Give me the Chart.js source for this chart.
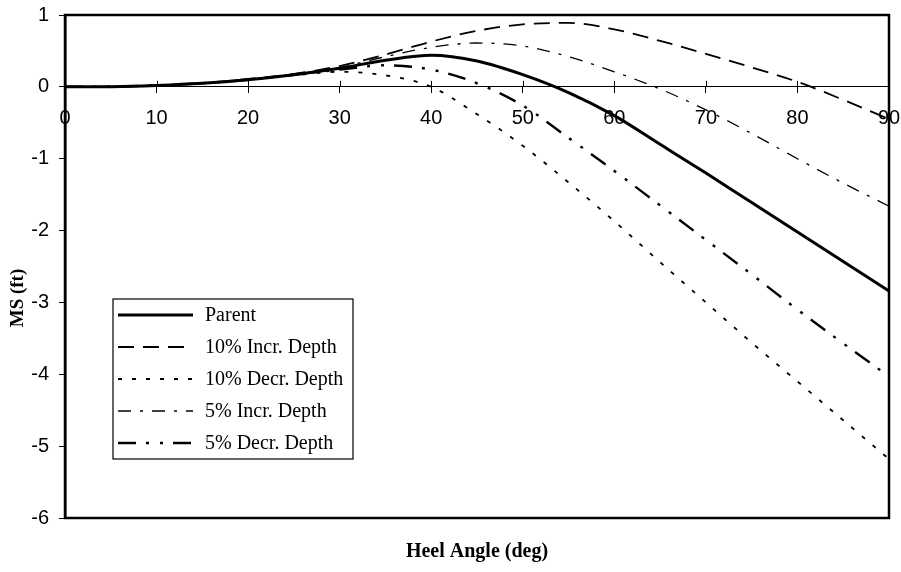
<!DOCTYPE html>
<html><head><meta charset="utf-8">
<script src="https://cdn.jsdelivr.net/npm/chart.js@4/dist/chart.umd.min.js"></script>
<style>html,body{margin:0;padding:0;background:#fff}#wrap{width:901px;height:572px;position:relative}</style>
</head><body><div id="wrap"><canvas id="c" width="901" height="572"></canvas></div>
<script>
const angles = [0,5,10,15,20,25,30,35,40,45,50,55,60,65,70,75,80,85,90];
const parentMS = [0,0.003,0.02,0.05,0.10,0.17,0.26,0.37,0.44,0.36,0.17,-0.08,-0.40,-0.80,-1.20,-1.61,-2.02,-2.43,-2.84];
const incr10MS = [0,0.003,0.02,0.05,0.11,0.18,0.29,0.45,0.63,0.78,0.87,0.89,0.80,0.64,0.46,0.27,0.07,-0.18,-0.45];
const decr10MS = [0,0.003,0.02,0.05,0.10,0.16,0.21,0.16,0.0,-0.38,-0.82,-1.33,-1.87,-2.44,-3.0,-3.56,-4.1,-4.64,-5.18];
const incr5MS = [0,0.003,0.02,0.05,0.10,0.17,0.27,0.42,0.55,0.61,0.57,0.42,0.21,-0.03,-0.32,-0.65,-1.0,-1.34,-1.66];
const decr5MS = [0,0.003,0.02,0.05,0.10,0.17,0.24,0.30,0.24,0.05,-0.26,-0.71,-1.17,-1.65,-2.13,-2.61,-3.1,-3.57,-4.03];
const seriesLabels = ['Parent','10% Incr. Depth','10% Decr. Depth','5% Incr. Depth','5% Decr. Depth'];
const xTitle = 'Heel Angle (deg)';
const yTitle = 'MS (ft)';

const pts = arr => angles.map((a,i)=>({x:a,y:arr[i]}));
const styles = [
  {w:3, dash:[]},
  {w:1.8, dash:[16,9]},
  {w:1.8, dash:[4,10]},
  {w:1.3, dash:[13,9,3,9]},
  {w:2.4, dash:[18,10,3,11,3,10]}
];
const allSeries = [parentMS, incr10MS, decr10MS, incr5MS, decr5MS];
const datasets = allSeries.map((s,i)=>({
  label: seriesLabels[i], data: pts(s), borderColor:'#000', backgroundColor:'#000',
  borderWidth: styles[i].w, borderDash: styles[i].dash, pointRadius:0, fill:false,
  tension:0.4, cubicInterpolationMode:'monotone'
}));

const frame = {
  id:'frame',
  afterDraw(chart){
    const {ctx, chartArea:a, scales} = chart;
    ctx.save(); ctx.strokeStyle='#000'; ctx.lineWidth=2.5; ctx.setLineDash([]);
    ctx.strokeRect(a.left, a.top, a.right-a.left, a.bottom-a.top);
    const y0 = scales.y.getPixelForValue(0);
    ctx.lineWidth=1;
    scales.x.ticks.forEach(t=>{
      const px = Math.round(scales.x.getPixelForValue(t.value))+0.5;
      ctx.beginPath(); ctx.moveTo(px, y0-6); ctx.lineTo(px, y0); ctx.stroke();
    });
    ctx.restore();
  }
};
const yTitlePlugin = {
  id:'yTitlePlugin',
  afterDraw(chart, args, o){
    const ctx = chart.ctx;
    ctx.save();
    ctx.translate(o.x, o.y); ctx.rotate(-Math.PI/2);
    ctx.font = o.font; ctx.fillStyle='#000'; ctx.textAlign='center'; ctx.textBaseline='middle';
    ctx.fillText(o.text, 0, 0);
    ctx.restore();
  }
};
const boxLegend = {
  id:'boxLegend',
  afterDraw(chart, args, o){
    const ctx = chart.ctx;
    ctx.save();
    ctx.fillStyle='#fff'; ctx.fillRect(o.x, o.y, o.w, o.h);
    ctx.strokeStyle='#000'; ctx.lineWidth=1.2; ctx.setLineDash([]);
    ctx.strokeRect(o.x, o.y, o.w, o.h);
    ctx.font = o.font; ctx.textBaseline='middle'; ctx.textAlign='left'; ctx.fillStyle='#000';
    chart.data.datasets.forEach((d,i)=>{
      const yy = o.y + o.first + i*o.step;
      ctx.beginPath(); ctx.lineWidth=d.borderWidth; ctx.setLineDash(d.borderDash||[]);
      ctx.moveTo(o.x+o.sx0, yy); ctx.lineTo(o.x+o.sx1, yy); ctx.stroke();
      ctx.setLineDash([]);
      ctx.fillText(d.label, o.x+o.tx, yy+1);
    });
    ctx.restore();
  }
};

new Chart(document.getElementById('c'), {
  type:'line',
  data:{datasets},
  plugins:[frame, boxLegend, yTitlePlugin],
  options:{
    responsive:false, animation:false, devicePixelRatio:1,
    layout:{padding:{top:15,right:12,bottom:8,left:0}},
    plugins:{
      legend:{display:false}, tooltip:{enabled:false},
      title:{display:true, text:xTitle, position:'bottom', fullSize:false, color:'#000',
        font:{family:'Liberation Serif', size:20, weight:'bold'}, padding:{top:22,bottom:0}},
      boxLegend:{x:113, y:299, w:240, h:160, first:16, step:32, sx0:5, sx1:80, tx:92,
        font:'20px "Liberation Serif"'},
      yTitlePlugin:{x:18, y:298, text:yTitle, font:'bold 19px "Liberation Serif"'}
    },
    scales:{
      x:{type:'linear', min:0, max:90, position:{y:0},
        ticks:{stepSize:10, color:'#000', font:{family:'Liberation Sans', size:20}, padding:14, maxRotation:0},
        grid:{drawOnChartArea:false, drawTicks:true, tickLength:6, color:'#000'},
        border:{color:'#000', width:1},
        afterFit:s=>{s.height=0; s.paddingLeft=0; s.paddingRight=0;}
      },
      y:{type:'linear', min:-6, max:1, position:'left',
        ticks:{stepSize:1, color:'#000', font:{family:'Liberation Sans', size:20}, padding:10},
        grid:{drawOnChartArea:false, drawTicks:true, tickLength:6, color:'#000'},
        border:{color:'#000', width:2.5},
        afterFit:s=>{s.width=65; s.paddingTop=0; s.paddingBottom=0;}
      }
    }
  }
});
</script></body></html>
